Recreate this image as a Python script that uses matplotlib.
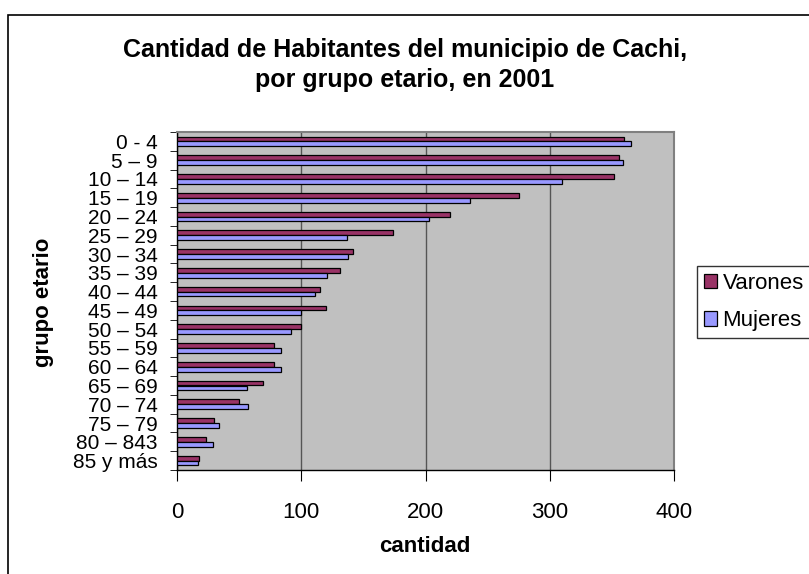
import matplotlib

matplotlib.use("Agg")
import matplotlib.pyplot as plt
from matplotlib.patches import Rectangle
import numpy as np

plt.rcParams["font.family"] = ["Liberation Sans", "DejaVu Sans"]

GROUPS = ["0 - 4", "5 – 9", "10 – 14", "15 – 19", "20 – 24", "25 – 29",
          "30 – 34", "35 – 39", "40 – 44", "45 – 49", "50 – 54", "55 – 59",
          "60 – 64", "65 – 69", "70 – 74", "75 – 79", "80 – 843", "85 y más"]
VARONES = [360, 356, 352, 275, 220, 174, 142, 131, 115, 120, 100, 78,
           78, 69, 50, 30, 23, 18]
MUJERES = [365, 359, 310, 236, 203, 137, 138, 121, 111, 100, 92, 84,
           84, 56, 57, 34, 29, 17]
X_TICKS = [0, 100, 200, 300, 400]

C_VAR = "#993366"
C_MUJ = "#9999FF"

fig = plt.figure(figsize=(8.09, 5.74), dpi=100)
W, H = 809, 574

# chart-area border (cut off at right and bottom like the reference)
fig.patches.append(Rectangle((8 / W, -0.1), 1.2, 1.1 - 15 / H,
                             transform=fig.transFigure, fill=False,
                             edgecolor="black", linewidth=1.2))

ax = fig.add_axes([177 / W, 1 - 470 / H, 497 / W, 338 / H])
ax.set_facecolor("#C0C0C0")

y = np.arange(len(GROUPS))
h = 0.26
ax.barh(y - h / 2, VARONES, height=h, color=C_VAR, edgecolor="black",
        linewidth=0.9, label="Varones", zorder=3)
ax.barh(y + h / 2, MUJERES, height=h, color=C_MUJ, edgecolor="black",
        linewidth=0.9, label="Mujeres", zorder=3)

ax.set_xlim(0, 400)
ax.set_ylim(len(GROUPS) - 0.5, -0.5)
ax.set_xticks(X_TICKS)
ax.set_xticklabels([str(v) for v in X_TICKS], fontsize=16)
ax.set_yticks(y)
ax.set_yticklabels(GROUPS, fontsize=15)
ax.tick_params(axis="y", length=0, pad=14)
ax.set_yticks(np.arange(len(GROUPS) + 1) - 0.5, minor=True)
ax.tick_params(axis="y", which="minor", length=5, direction="out")
ax.tick_params(axis="x", length=8, direction="out", pad=15)
ax.grid(axis="x", color="#555555", linewidth=1.0, zorder=1)

for s in ("left", "bottom"):
    ax.spines[s].set_color("black")
    ax.spines[s].set_linewidth(1.0)
for s in ("top", "right"):
    ax.spines[s].set_color("#808080")
    ax.spines[s].set_linewidth(1.5)

fig.text(425 / W, 1 - 546 / H, "cantidad", fontsize=16, fontweight="bold",
         ha="center", va="center")
fig.text(44 / W, 1 - 302 / H, "grupo etario", rotation=90, fontsize=16,
         fontweight="bold", ha="center", va="center")

fig.text(405 / W, 1 - 65 / H,
         "Cantidad de Habitantes del municipio de Cachi,\npor grupo etario, en 2001",
         ha="center", va="center", fontsize=18, fontweight="bold",
         linespacing=1.3)

leg = fig.legend(loc="upper left", bbox_to_anchor=(697 / W, 1 - 266 / H),
                 fontsize=16, frameon=True, fancybox=False, edgecolor="black",
                 handlelength=0.6, handleheight=0.6, handletextpad=0.25,
                 borderpad=0.3, labelspacing=0.75, borderaxespad=0)
leg.get_frame().set_linewidth(1.0)

fig.savefig("out.png", dpi=100)
